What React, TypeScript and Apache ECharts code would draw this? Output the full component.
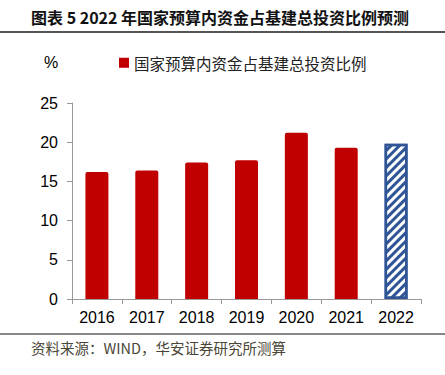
import React, { useEffect, useRef } from "react";
import * as echarts from "echarts";

const categories = ["2016", "2017", "2018", "2019", "2020", "2021", "2022"];
const values = [16.2, 16.4, 17.4, 17.7, 21.2, 19.3, 19.8];
const seriesName = "国家预算内资金占基建总投资比例";
const titleText = "图表 5 2022 年国家预算内资金占基建总投资比例预测";
const sourceText = "资料来源：WIND，华安证券研究所测算";
const yTicks = { min: 0, max: 25, interval: 5 };

const RED = "#c00000";
const BLUE = "#2f5597";

export default function App() {
  const ref = useRef<HTMLDivElement>(null);
  useEffect(() => {
    if (!ref.current) return;
    const chart = echarts.init(ref.current, null, { renderer: "svg" });
    const lastIdx = values.length - 1;
    chart.setOption({
      animation: false,
      backgroundColor: "#ffffff",
      grid: { left: 72, right: 24, top: 103, bottom: 76, containLabel: false },
      legend: {
        show: true,
        left: 119,
        top: 55,
        padding: 0,
        itemWidth: 10,
        itemHeight: 10,
        itemGap: 5,
        icon: "rect",
        textStyle: {
          fontFamily: "Noto Sans CJK SC",
          fontSize: 15.5,
          color: "#222",
        },
        data: [seriesName],
      },
      xAxis: {
        type: "category",
        data: categories,
        boundaryGap: true,
        axisLine: { show: true, lineStyle: { color: "#999", width: 1 } },
        axisTick: { show: true, alignWithLabel: false, interval: 0, length: 5, lineStyle: { color: "#999" } },
        axisLabel: {
          interval: 0,
          margin: 10,
          fontFamily: "Liberation Sans",
          fontSize: 16,
          color: "#000",
        },
      },
      yAxis: {
        type: "value",
        min: yTicks.min,
        max: yTicks.max,
        interval: yTicks.interval,
        splitLine: { show: false },
        axisLine: { show: true, lineStyle: { color: "#999", width: 1 } },
        axisTick: { show: true, length: 5, lineStyle: { color: "#999" } },
        axisLabel: {
          margin: 14,
          fontFamily: "Liberation Sans",
          fontSize: 16,
          color: "#000",
        },
      },
      series: [
        {
          name: seriesName,
          type: "bar",
          barWidth: 23,
          itemStyle: { color: RED, borderRadius: [2, 2, 0, 0] },
          data: values.map((v, i) =>
            i === lastIdx
              ? {
                  value: v,
                  itemStyle: {
                    color: "#ffffff",
                    borderColor: BLUE,
                    borderWidth: 2.5,
                    borderRadius: 0,
                    decal: {
                      symbol: "rect",
                      color: BLUE,
                      dashArrayX: [1, 0],
                      dashArrayY: [3, 3],
                      rotation: -Math.PI / 4,
                    },
                  },
                }
              : v
          ),
        },
      ],
      graphic: [
        {
          type: "text",
          left: 31,
          top: 9,
          style: {
            text: titleText,
            fontFamily: "Noto Sans CJK SC",
            fontWeight: "bold",
            fontSize: 16,
            fill: "#111",
          },
        },
        {
          type: "line",
          shape: { x1: 0, y1: 32, x2: 445, y2: 32 },
          style: { stroke: "#555", lineWidth: 2 },
        },
        {
          type: "text",
          left: 44,
          top: 54,
          style: {
            text: "%",
            fontFamily: "Liberation Sans",
            fontSize: 16,
            fill: "#000",
          },
        },
        {
          type: "line",
          shape: { x1: 0, y1: 334, x2: 445, y2: 334 },
          style: { stroke: "#888", lineWidth: 2 },
        },
        {
          type: "text",
          left: 31,
          top: 340,
          style: {
            text: sourceText,
            fontFamily: "Noto Sans CJK SC",
            fontSize: 14.5,
            fill: "#4a4636",
          },
        },
      ],
    });
    return () => chart.dispose();
  }, []);
  return (
    <div
      ref={ref}
      style={{ position: "fixed", left: 0, top: 0, width: 445, height: 375 }}
    />
  );
}
